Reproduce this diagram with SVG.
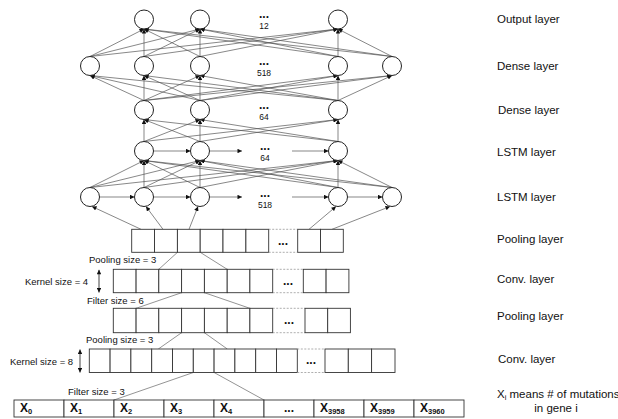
<svg xmlns="http://www.w3.org/2000/svg" width="618" height="419" viewBox="0 0 618 419">
<defs>
<marker id="ah" viewBox="0 0 10 10" refX="10" refY="5" markerWidth="5" markerHeight="4.5" markerUnits="userSpaceOnUse" orient="auto-start-reverse"><path d="M0,0 L10,5 L0,10 z" fill="#111"/></marker>
<style>
text{font-family:"Liberation Sans",Arial,sans-serif;fill:#111}
.lbl{font-size:11.5px}
.sm{font-size:9.5px}
.num{font-size:8.5px}
.dots{font-size:12px;font-weight:bold;text-anchor:middle}
.x{font-size:12px;font-weight:bold}
.e{stroke:#555;stroke-width:0.7;fill:none;marker-end:url(#ah)}
.ln{stroke:#666;stroke-width:0.7;fill:none}
.n{fill:#fff;stroke:#222;stroke-width:1}
.c{fill:#fff;stroke:#333;stroke-width:0.9}
.d{stroke:#999;stroke-width:0.8;stroke-dasharray:2 1.5}
.k{stroke:#111;stroke-width:0.8;marker-start:url(#ah);marker-end:url(#ah)}
</style>
</defs>

<g id="connectors">
<!-- Dense518 -> Output -->
<line class="e" x1="90" y1="56.5" x2="144" y2="29"/><line class="e" x1="90" y1="56.5" x2="200" y2="29"/><line class="e" x1="90" y1="56.5" x2="338" y2="29"/>
<line class="e" x1="144" y1="56.5" x2="144" y2="29"/><line class="e" x1="144" y1="56.5" x2="200" y2="29"/><line class="e" x1="144" y1="56.5" x2="338" y2="29"/>
<line class="e" x1="200" y1="56.5" x2="144" y2="29"/><line class="e" x1="200" y1="56.5" x2="200" y2="29"/><line class="e" x1="200" y1="56.5" x2="338" y2="29"/>
<line class="e" x1="338" y1="56.5" x2="144" y2="29"/><line class="e" x1="338" y1="56.5" x2="200" y2="29"/><line class="e" x1="338" y1="56.5" x2="338" y2="29"/>
<line class="e" x1="392" y1="56.5" x2="144" y2="29"/><line class="e" x1="392" y1="56.5" x2="200" y2="29"/><line class="e" x1="392" y1="56.5" x2="338" y2="29"/>
<!-- Dense64 -> Dense518 -->
<line class="e" x1="144" y1="100.5" x2="90" y2="75.5"/><line class="e" x1="144" y1="100.5" x2="144" y2="75.5"/><line class="e" x1="144" y1="100.5" x2="200" y2="75.5"/><line class="e" x1="144" y1="100.5" x2="338" y2="75.5"/><line class="e" x1="144" y1="100.5" x2="392" y2="75.5"/>
<line class="e" x1="200" y1="100.5" x2="90" y2="75.5"/><line class="e" x1="200" y1="100.5" x2="144" y2="75.5"/><line class="e" x1="200" y1="100.5" x2="200" y2="75.5"/><line class="e" x1="200" y1="100.5" x2="338" y2="75.5"/><line class="e" x1="200" y1="100.5" x2="392" y2="75.5"/>
<line class="e" x1="338" y1="100.5" x2="90" y2="75.5"/><line class="e" x1="338" y1="100.5" x2="144" y2="75.5"/><line class="e" x1="338" y1="100.5" x2="200" y2="75.5"/><line class="e" x1="338" y1="100.5" x2="338" y2="75.5"/><line class="e" x1="338" y1="100.5" x2="392" y2="75.5"/>
<!-- LSTM64 -> Dense64 -->
<line class="e" x1="144" y1="141.5" x2="144" y2="119.5"/><line class="e" x1="144" y1="141.5" x2="200" y2="119.5"/><line class="e" x1="144" y1="141.5" x2="338" y2="119.5"/>
<line class="e" x1="200" y1="141.5" x2="144" y2="119.5"/><line class="e" x1="200" y1="141.5" x2="200" y2="119.5"/><line class="e" x1="200" y1="141.5" x2="338" y2="119.5"/>
<line class="e" x1="338" y1="141.5" x2="144" y2="119.5"/><line class="e" x1="338" y1="141.5" x2="200" y2="119.5"/><line class="e" x1="338" y1="141.5" x2="338" y2="119.5"/>
<!-- LSTM518 -> LSTM64 -->
<line class="e" x1="90" y1="187.5" x2="144" y2="160.5"/><line class="e" x1="90" y1="187.5" x2="200" y2="160.5"/><line class="e" x1="90" y1="187.5" x2="338" y2="160.5"/>
<line class="e" x1="144" y1="187.5" x2="144" y2="160.5"/><line class="e" x1="144" y1="187.5" x2="200" y2="160.5"/><line class="e" x1="144" y1="187.5" x2="338" y2="160.5"/>
<line class="e" x1="200" y1="187.5" x2="144" y2="160.5"/><line class="e" x1="200" y1="187.5" x2="200" y2="160.5"/><line class="e" x1="200" y1="187.5" x2="338" y2="160.5"/>
<line class="e" x1="338" y1="187.5" x2="144" y2="160.5"/><line class="e" x1="338" y1="187.5" x2="200" y2="160.5"/><line class="e" x1="338" y1="187.5" x2="338" y2="160.5"/>
<line class="e" x1="392" y1="187.5" x2="144" y2="160.5"/><line class="e" x1="392" y1="187.5" x2="200" y2="160.5"/><line class="e" x1="392" y1="187.5" x2="338" y2="160.5"/>
<!-- recurrent arrows -->
<line class="e" x1="153.5" y1="151" x2="190.5" y2="151"/><line class="e" x1="209.5" y1="151" x2="242" y2="151"/><line class="e" x1="292" y1="151" x2="328.5" y2="151"/>
<line class="e" x1="99.5" y1="197" x2="134.5" y2="197"/><line class="e" x1="153.5" y1="197" x2="190.5" y2="197"/><line class="e" x1="209.5" y1="197" x2="242" y2="197"/><line class="e" x1="292" y1="197" x2="328.5" y2="197"/><line class="e" x1="347.5" y1="197" x2="382.5" y2="197"/>
<!-- Pooling -> LSTM518 -->
<line class="e" x1="141" y1="229.3" x2="92" y2="206.5"/><line class="e" x1="163" y1="229.3" x2="146" y2="206.5"/><line class="e" x1="189" y1="229.3" x2="198" y2="206.5"/><line class="e" x1="309" y1="229.3" x2="336" y2="206.5"/><line class="e" x1="332" y1="229.3" x2="390" y2="206.5"/>
<!-- CNN window lines -->
<path class="ln" d="M177.5,252.3L158.8,269.3M200.2,252.3L227.2,269.3"/>
<path class="ln" d="M181.6,292.7L136.1,308.3M204.4,292.7L249.9,308.3"/>
<path class="ln" d="M181.6,332.7L158.3,349M204.4,332.7L227.3,349"/>
<path class="ln" d="M193.3,372.5L114,400M214.1,372.5L264,400"/>
<!-- kernel arrows -->
<line class="k" x1="99" y1="269.8" x2="99" y2="292.5"/>
<line class="k" x1="80" y1="349.5" x2="80" y2="372.5"/>
</g>

<g id="output-layer">
<circle class="n" cx="144" cy="19.5" r="9.5"/><circle class="n" cx="200" cy="19.5" r="9.5"/><circle class="n" cx="338" cy="19.5" r="9.5"/>
<text class="dots" x="264" y="18">...</text><text class="num" x="264" y="29" text-anchor="middle">12</text>
</g>
<g id="dense-518">
<circle class="n" cx="90" cy="66" r="9.5"/><circle class="n" cx="144" cy="66" r="9.5"/><circle class="n" cx="200" cy="66" r="9.5"/><circle class="n" cx="338" cy="66" r="9.5"/><circle class="n" cx="392" cy="66" r="9.5"/>
<text class="dots" x="264" y="64.5">...</text><text class="num" x="264" y="75.5" text-anchor="middle">518</text>
</g>
<g id="dense-64">
<circle class="n" cx="144" cy="110" r="9.5"/><circle class="n" cx="200" cy="110" r="9.5"/><circle class="n" cx="338" cy="110" r="9.5"/>
<text class="dots" x="264" y="109">...</text><text class="num" x="264" y="120" text-anchor="middle">64</text>
</g>
<g id="lstm-64">
<circle class="n" cx="144" cy="151" r="9.5"/><circle class="n" cx="200" cy="151" r="9.5"/><circle class="n" cx="338" cy="151" r="9.5"/>
<text class="dots" x="265" y="150">...</text><text class="num" x="265" y="160.5" text-anchor="middle">64</text>
</g>
<g id="lstm-518">
<circle class="n" cx="90" cy="197" r="9.5"/><circle class="n" cx="144" cy="197" r="9.5"/><circle class="n" cx="200" cy="197" r="9.5"/><circle class="n" cx="338" cy="197" r="9.5"/><circle class="n" cx="392" cy="197" r="9.5"/>
<text class="dots" x="265" y="197">...</text><text class="num" x="265" y="208" text-anchor="middle">518</text>
</g>

<g id="pooling-1">
<rect class="c" x="131.7" y="229.3" width="22.8" height="23"/><rect class="c" x="154.5" y="229.3" width="22.9" height="23"/><rect class="c" x="177.4" y="229.3" width="22.8" height="23"/><rect class="c" x="200.2" y="229.3" width="22.8" height="23"/><rect class="c" x="223" y="229.3" width="22.9" height="23"/><rect class="c" x="245.9" y="229.3" width="22.8" height="23"/>
<path class="d" d="M268.7,229.3H297.7M268.7,252.3H297.7"/>
<text class="dots" x="283" y="244.5">...</text>
<rect class="c" x="297.7" y="229.3" width="22.8" height="23"/><rect class="c" x="320.5" y="229.3" width="22.8" height="23"/>
</g>
<g id="conv-1">
<rect class="c" x="113.3" y="269.3" width="22.8" height="23.4"/><rect class="c" x="136.1" y="269.3" width="22.7" height="23.4"/><rect class="c" x="158.8" y="269.3" width="22.8" height="23.4"/><rect class="c" x="181.6" y="269.3" width="22.8" height="23.4"/><rect class="c" x="204.4" y="269.3" width="22.8" height="23.4"/><rect class="c" x="227.2" y="269.3" width="22.7" height="23.4"/><rect class="c" x="249.9" y="269.3" width="22.8" height="23.4"/>
<path class="d" d="M272.7,269.3H303.3M272.7,292.7H303.3"/>
<text class="dots" x="288" y="285">...</text>
<rect class="c" x="303.3" y="269.3" width="22.8" height="23.4"/><rect class="c" x="326.1" y="269.3" width="22.8" height="23.4"/>
</g>
<g id="pooling-2">
<rect class="c" x="113.3" y="308.3" width="22.8" height="24.4"/><rect class="c" x="136.1" y="308.3" width="22.7" height="24.4"/><rect class="c" x="158.8" y="308.3" width="22.8" height="24.4"/><rect class="c" x="181.6" y="308.3" width="22.8" height="24.4"/><rect class="c" x="204.4" y="308.3" width="22.8" height="24.4"/><rect class="c" x="227.2" y="308.3" width="22.7" height="24.4"/><rect class="c" x="249.9" y="308.3" width="22.8" height="24.4"/>
<path class="d" d="M272.7,308.3H305M272.7,332.7H305"/>
<text class="dots" x="289" y="324">...</text>
<rect class="c" x="305" y="308.3" width="22.7" height="24.4"/><rect class="c" x="327.7" y="308.3" width="22.7" height="24.4"/>
</g>
<g id="conv-2">
<rect class="c" x="89.3" y="349" width="20.8" height="23.5"/><rect class="c" x="110.1" y="349" width="20.8" height="23.5"/><rect class="c" x="130.9" y="349" width="20.8" height="23.5"/><rect class="c" x="151.7" y="349" width="20.8" height="23.5"/><rect class="c" x="172.5" y="349" width="20.8" height="23.5"/><rect class="c" x="193.3" y="349" width="20.8" height="23.5"/><rect class="c" x="214.1" y="349" width="20.8" height="23.5"/><rect class="c" x="234.9" y="349" width="20.8" height="23.5"/><rect class="c" x="255.7" y="349" width="20.8" height="23.5"/><rect class="c" x="276.5" y="349" width="20.8" height="23.5"/>
<path class="d" d="M297.3,349H325M297.3,372.5H325"/>
<text class="dots" x="311" y="364">...</text>
<rect class="c" x="325" y="349" width="23.3" height="23.5"/><rect class="c" x="348.3" y="349" width="23.3" height="23.5"/><rect class="c" x="371.6" y="349" width="23.4" height="23.5"/>
</g>
<g id="input">
<rect class="c" x="14" y="400" width="50" height="17"/><rect class="c" x="64" y="400" width="50" height="17"/><rect class="c" x="114" y="400" width="50" height="17"/><rect class="c" x="164" y="400" width="50" height="17"/><rect class="c" x="214" y="400" width="50" height="17"/><rect class="c" x="264" y="400" width="50" height="17"/><rect class="c" x="314" y="400" width="50" height="17"/><rect class="c" x="364" y="400" width="50" height="17"/><rect class="c" x="414" y="400" width="50" height="17"/>
<text class="x" x="20" y="412">X<tspan font-size="7.5" dy="2">0</tspan></text>
<text class="x" x="70" y="412">X<tspan font-size="7.5" dy="2">1</tspan></text>
<text class="x" x="120" y="412">X<tspan font-size="7.5" dy="2">2</tspan></text>
<text class="x" x="170" y="412">X<tspan font-size="7.5" dy="2">3</tspan></text>
<text class="x" x="220" y="412">X<tspan font-size="7.5" dy="2">4</tspan></text>
<text class="x" x="284" y="412" font-weight="normal" font-size="10">...</text>
<text class="x" x="320" y="412">X<tspan font-size="7.5" dy="2">3958</tspan></text>
<text class="x" x="370" y="412">X<tspan font-size="7.5" dy="2">3959</tspan></text>
<text class="x" x="420" y="412">X<tspan font-size="7.5" dy="2">3960</tspan></text>
</g>

<g id="left-labels">
<text class="sm" x="89" y="262.5">Pooling size = 3</text>
<text class="sm" x="25" y="284.5">Kernel size = 4</text>
<text class="sm" x="87" y="303.5">Filter size = 6</text>
<text class="sm" x="86" y="342.5">Pooling size = 3</text>
<text class="sm" x="10" y="364.5">Kernel size = 8</text>
<text class="sm" x="68" y="395">Filter size = 3</text>
</g>

<g id="right-labels">
<text class="lbl" x="497" y="23">Output layer</text>
<text class="lbl" x="497" y="70">Dense layer</text>
<text class="lbl" x="498" y="114">Dense layer</text>
<text class="lbl" x="497" y="155.5">LSTM layer</text>
<text class="lbl" x="497" y="201">LSTM layer</text>
<text class="lbl" x="497" y="243">Pooling layer</text>
<text class="lbl" x="497" y="283">Conv. layer</text>
<text class="lbl" x="497" y="320">Pooling layer</text>
<text class="lbl" x="498" y="363">Conv. layer</text>
<text class="lbl" x="497" y="398">X<tspan font-size="7.5" dy="2">i</tspan><tspan dy="-2"> means # of mutations</tspan></text>
<text class="lbl" x="556" y="412" text-anchor="middle">in gene i</text>
</g>
</svg>
